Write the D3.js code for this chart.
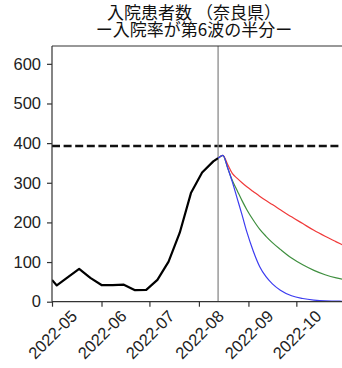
<!DOCTYPE html>
<html><head><meta charset="utf-8">
<script src="https://cdn.jsdelivr.net/npm/d3@7"></script>
<style>
html,body{margin:0;padding:0;background:#fff;}
svg{display:block;}
</style></head>
<body>
<script>
const titleLines = ["入院患者数 （奈良県）", "ー入院率が第6波の半分ー"];

const actualDates = ["2022-05-01","2022-05-04","2022-05-11","2022-05-18","2022-05-25","2022-06-01","2022-06-08","2022-06-15","2022-06-22","2022-06-29","2022-07-06","2022-07-13","2022-07-20","2022-07-27","2022-08-03","2022-08-10","2022-08-13"];
const actualValues = [55, 41, 62, 83, 60, 42, 42, 43, 29, 30, 55, 101, 174, 274, 326, 354, 362];

const projDates = ["2022-08-13","2022-08-16","2022-08-19","2022-08-22","2022-08-25","2022-08-28","2022-08-31","2022-09-04","2022-09-08","2022-09-12","2022-09-16","2022-09-21","2022-09-28","2022-10-05","2022-10-12","2022-10-19","2022-10-26","2022-10-31"];
const projRed   = [362, 369, 346, 323, 311, 300, 290, 278, 266, 255, 245, 232, 214, 197, 180, 165, 151, 141];
const projGreen = [362, 369, 337, 305, 280, 255, 232, 206, 183, 165, 149, 132, 110, 93, 79, 68, 60, 56];
const projBlue  = [362, 369, 338, 301, 260, 219, 176, 128, 89, 63, 45, 29, 15, 8, 4, 2, 1.5, 1];

const refLevel = 393;
const markerDate = "2022-08-13";
const yTicks = [0, 100, 200, 300, 400, 500, 600];
const xTickDates = ["2022-05-01","2022-06-01","2022-07-01","2022-08-01","2022-09-01","2022-10-01"];
const xTickLabels = ["2022-05","2022-06","2022-07","2022-08","2022-09","2022-10"];

const W = 342, H = 368;
const L = 52, T = 46, B = 301.7;
const parse = d3.utcParse("%Y-%m-%d");

const svg = d3.select("body").append("svg").attr("width", W).attr("height", H);

const x = d3.scaleUtc().domain([parse("2022-05-01"), parse("2022-10-31")]).range([L, L + 1.597 * 183]);
const y = d3.scaleLinear().domain([0, 645]).range([B, T]);

svg.append("defs").append("clipPath").attr("id", "clip")
  .append("rect").attr("x", L).attr("y", T).attr("width", x.range()[1] - L).attr("height", B - T);

const g = svg.append("g").attr("clip-path", "url(#clip)");

// reference dashed level
g.append("line")
  .attr("x1", L).attr("x2", x.range()[1])
  .attr("y1", y(refLevel)).attr("y2", y(refLevel))
  .attr("stroke", "#111").attr("stroke-width", 2.5).attr("stroke-dasharray", "8,3.6");

// vertical marker
g.append("line")
  .attr("x1", x(parse(markerDate))).attr("x2", x(parse(markerDate)))
  .attr("y1", T).attr("y2", B)
  .attr("stroke", "#8a8a8a").attr("stroke-width", 1.3);

const line = d3.line().x(d => x(d[0])).y(d => y(d[1]));
const smooth = d3.line().x(d => x(d[0])).y(d => y(d[1])).curve(d3.curveMonotoneX);

g.append("path")
  .datum(actualDates.map((d, i) => [parse(d), actualValues[i]]))
  .attr("d", line).attr("fill", "none").attr("stroke", "#000").attr("stroke-width", 2.2)
  .attr("stroke-linejoin", "round");

const series = [[projRed, "#f03a3a"], [projGreen, "#3f8f3f"], [projBlue, "#3c3cf0"]];
series.forEach(([vals, col]) => {
  g.append("path")
    .datum(projDates.map((d, i) => [parse(d), vals[i]]))
    .attr("d", smooth).attr("fill", "none").attr("stroke", col).attr("stroke-width", 1.2);
});

// spines
const spine = "#333";
svg.append("line").attr("x1", L).attr("x2", L).attr("y1", T).attr("y2", B).attr("stroke", spine).attr("stroke-width", 1.2);
svg.append("line").attr("x1", L).attr("x2", W + 5).attr("y1", B).attr("y2", B).attr("stroke", spine).attr("stroke-width", 1.2);
svg.append("line").attr("x1", L).attr("x2", W + 5).attr("y1", T).attr("y2", T).attr("stroke", spine).attr("stroke-width", 1.2);

const font = "'Liberation Sans', Arial, sans-serif";
const fs = 16.5;

// y axis
const yAxis = svg.append("g").attr("transform", `translate(${L},0)`)
  .call(d3.axisLeft(y).tickValues(yTicks).tickSize(5).tickPadding(6).tickFormat(d3.format("d")));
yAxis.select(".domain").remove();
yAxis.selectAll(".tick line").attr("stroke", spine).attr("stroke-width", 1.2);
yAxis.selectAll(".tick text").attr("font-family", font).attr("font-size", fs).attr("fill", "#222");

// x axis
const xAxis = svg.append("g").attr("transform", `translate(0,${B})`)
  .call(d3.axisBottom(x).tickValues(xTickDates.map(parse)).tickSize(5)
    .tickFormat((d, i) => xTickLabels[i]));
xAxis.select(".domain").remove();
xAxis.selectAll(".tick line").attr("stroke", spine).attr("stroke-width", 1.2);
xAxis.selectAll(".tick text").each(function() {
  const t = d3.select(this);
  t.attr("font-family", font).attr("font-size", fs).attr("fill", "#222")
   .attr("text-anchor", "middle").attr("dy", null).attr("y", 0);
  const len = this.getComputedTextLength();
  const h = fs * 0.72;
  const half = (len + h) / Math.SQRT2 / 2;
  t.attr("dominant-baseline", "central")
   .attr("transform", `translate(0,${7 + half}) rotate(-45)`);
});

// title (one text element, two lines)
const title = svg.append("text")
  .attr("text-anchor", "middle")
  .attr("font-family", "'Noto Sans CJK JP', sans-serif")
  .attr("font-size", 17).attr("fill", "#111");
title.selectAll("tspan").data(titleLines).enter().append("tspan")
  .attr("x", 194).attr("y", (d, i) => 18.5 + i * 17)
  .text(d => d);
</script>
</body></html>
